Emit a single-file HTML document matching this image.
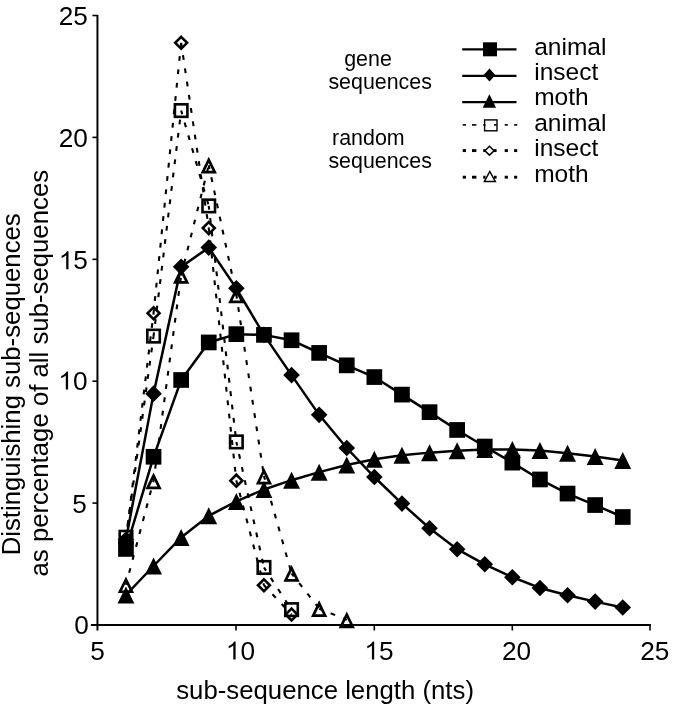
<!DOCTYPE html><html><head><meta charset="utf-8"><style>html,body{margin:0;padding:0;background:#fff;width:685px;height:706px;overflow:hidden}svg{display:block;will-change:transform}text{font-family:"Liberation Sans",sans-serif;fill:#000}</style></head><body>
<svg width="685" height="706" viewBox="0 0 685 706">
<g stroke="#000" stroke-width="2" fill="none">
<path d="M97.45,14.90V630.50"/>
<path d="M90.95,625.00H650.95"/>
<path d="M92.45,503.10H97.45" stroke-width="1.6"/>
<path d="M92.45,381.20H97.45" stroke-width="1.6"/>
<path d="M92.45,259.30H97.45" stroke-width="1.6"/>
<path d="M92.45,137.40H97.45" stroke-width="1.6"/>
<path d="M92.45,15.50H97.45" stroke-width="1.6"/>
<path d="M236.00,625.00V630.50" stroke-width="1.6"/>
<path d="M374.30,625.00V630.50" stroke-width="1.6"/>
<path d="M512.30,625.00V630.50" stroke-width="1.6"/>
<path d="M650.00,625.00V630.50" stroke-width="1.6"/>
</g>
<text x="58.74" y="25.30" font-size="26.2">2</text><text x="73.31" y="25.30" font-size="26.2">5</text>
<text x="58.74" y="146.70" font-size="26.2">2</text><text x="73.31" y="146.70" font-size="26.2">0</text>
<path transform="translate(58.74,269.30) scale(0.01279,-0.01279)" d="M763,0L583,0L583,1098Q518,1039 412,979Q306,920 223,890L223,1057Q374,1125 487,1221Q600,1318 647,1409L763,1409Z"/><text x="73.31" y="269.30" font-size="26.2">5</text>
<path transform="translate(58.34,389.50) scale(0.01279,-0.01279)" d="M763,0L583,0L583,1098Q518,1039 412,979Q306,920 223,890L223,1057Q374,1125 487,1221Q600,1318 647,1409L763,1409Z"/><text x="72.91" y="389.50" font-size="26.2">0</text>
<text x="72.21" y="513.20" font-size="26.2">5</text>
<text x="74.21" y="633.50" font-size="26.2">0</text>
<text x="90.25" y="659.60" font-size="26.2">5</text>
<path transform="translate(225.84,659.60) scale(0.01279,-0.01279)" d="M763,0L583,0L583,1098Q518,1039 412,979Q306,920 223,890L223,1057Q374,1125 487,1221Q600,1318 647,1409L763,1409Z"/><text x="240.41" y="659.60" font-size="26.2">0</text>
<path transform="translate(364.44,659.60) scale(0.01279,-0.01279)" d="M763,0L583,0L583,1098Q518,1039 412,979Q306,920 223,890L223,1057Q374,1125 487,1221Q600,1318 647,1409L763,1409Z"/><text x="379.01" y="659.60" font-size="26.2">5</text>
<text x="501.89" y="659.60" font-size="26.2">2</text><text x="516.46" y="659.60" font-size="26.2">0</text>
<text x="640.19" y="659.60" font-size="26.2">2</text><text x="654.76" y="659.60" font-size="26.2">5</text>
<text transform="translate(20.2,555.36) rotate(-90)" font-size="25.75">Distinguishing sub-sequences</text>
<text transform="translate(48.4,576.46) rotate(-90)" font-size="25.75">as percentage of all sub-sequences</text>
<text x="176.23" y="699.2" font-size="25.75">sub-sequence length (nts)</text>
<path d="M125.95,548.93 L153.55,456.78 L181.15,379.98 L208.75,342.44 L236.35,334.15 L263.95,334.88 L291.55,340.24 L319.15,352.92 L346.75,365.35 L374.35,377.06 L401.95,394.61 L429.55,412.16 L457.15,429.96 L484.75,446.54 L512.35,462.63 L539.95,479.45 L567.55,493.59 L595.15,505.05 L622.75,517.00" fill="none" stroke="#000" stroke-width="2.5"/>
<rect x="118.10" y="541.08" width="15.70" height="15.70"/><rect x="145.70" y="448.93" width="15.70" height="15.70"/><rect x="173.30" y="372.13" width="15.70" height="15.70"/><rect x="200.90" y="334.59" width="15.70" height="15.70"/><rect x="228.50" y="326.30" width="15.70" height="15.70"/><rect x="256.10" y="327.03" width="15.70" height="15.70"/><rect x="283.70" y="332.39" width="15.70" height="15.70"/><rect x="311.30" y="345.07" width="15.70" height="15.70"/><rect x="338.90" y="357.50" width="15.70" height="15.70"/><rect x="366.50" y="369.21" width="15.70" height="15.70"/><rect x="394.10" y="386.76" width="15.70" height="15.70"/><rect x="421.70" y="404.31" width="15.70" height="15.70"/><rect x="449.30" y="422.11" width="15.70" height="15.70"/><rect x="476.90" y="438.69" width="15.70" height="15.70"/><rect x="504.50" y="454.78" width="15.70" height="15.70"/><rect x="532.10" y="471.60" width="15.70" height="15.70"/><rect x="559.70" y="485.74" width="15.70" height="15.70"/><rect x="587.30" y="497.20" width="15.70" height="15.70"/><rect x="614.90" y="509.15" width="15.70" height="15.70"/>
<path d="M125.95,539.43 L153.55,393.63 L181.15,266.86 L208.75,247.60 L236.35,288.31 L263.95,334.88 L291.55,375.11 L319.15,414.84 L346.75,448.00 L374.35,477.01 L401.95,503.59 L429.55,528.21 L457.15,549.18 L484.75,564.29 L512.35,577.22 L539.95,587.94 L567.55,595.26 L595.15,601.60 L622.75,607.45" fill="none" stroke="#000" stroke-width="2.5"/>
<path d="M125.95,531.13L134.25,539.43L125.95,547.73L117.65,539.43Z"/><path d="M153.55,385.33L161.85,393.63L153.55,401.93L145.25,393.63Z"/><path d="M181.15,258.56L189.45,266.86L181.15,275.16L172.85,266.86Z"/><path d="M208.75,239.30L217.05,247.60L208.75,255.90L200.45,247.60Z"/><path d="M236.35,280.01L244.65,288.31L236.35,296.61L228.05,288.31Z"/><path d="M263.95,326.58L272.25,334.88L263.95,343.18L255.65,334.88Z"/><path d="M291.55,366.81L299.85,375.11L291.55,383.41L283.25,375.11Z"/><path d="M319.15,406.54L327.45,414.84L319.15,423.14L310.85,414.84Z"/><path d="M346.75,439.70L355.05,448.00L346.75,456.30L338.45,448.00Z"/><path d="M374.35,468.71L382.65,477.01L374.35,485.31L366.05,477.01Z"/><path d="M401.95,495.29L410.25,503.59L401.95,511.89L393.65,503.59Z"/><path d="M429.55,519.91L437.85,528.21L429.55,536.51L421.25,528.21Z"/><path d="M457.15,540.88L465.45,549.18L457.15,557.48L448.85,549.18Z"/><path d="M484.75,555.99L493.05,564.29L484.75,572.59L476.45,564.29Z"/><path d="M512.35,568.92L520.65,577.22L512.35,585.52L504.05,577.22Z"/><path d="M539.95,579.64L548.25,587.94L539.95,596.24L531.65,587.94Z"/><path d="M567.55,586.96L575.85,595.26L567.55,603.56L559.25,595.26Z"/><path d="M595.15,593.30L603.45,601.60L595.15,609.90L586.85,601.60Z"/><path d="M622.75,599.15L631.05,607.45L622.75,615.75L614.45,607.45Z"/>
<path d="M125.95,595.01 L153.55,566.00 L181.15,537.48 L208.75,515.78 L236.35,501.39 L263.95,489.45 L291.55,480.18 L319.15,472.14 L346.75,465.07 L374.35,459.22 L401.95,455.32 L429.55,452.63 L457.15,450.68 L484.75,449.46 L512.35,449.46 L539.95,450.44 L567.55,453.36 L595.15,456.53 L622.75,460.44" fill="none" stroke="#000" stroke-width="2.5"/>
<path d="M125.95,586.51L134.40,603.51L117.50,603.51Z"/><path d="M153.55,557.50L162.00,574.50L145.10,574.50Z"/><path d="M181.15,528.98L189.60,545.98L172.70,545.98Z"/><path d="M208.75,507.28L217.20,524.28L200.30,524.28Z"/><path d="M236.35,492.89L244.80,509.89L227.90,509.89Z"/><path d="M263.95,480.95L272.40,497.95L255.50,497.95Z"/><path d="M291.55,471.68L300.00,488.68L283.10,488.68Z"/><path d="M319.15,463.64L327.60,480.64L310.70,480.64Z"/><path d="M346.75,456.57L355.20,473.57L338.30,473.57Z"/><path d="M374.35,450.72L382.80,467.72L365.90,467.72Z"/><path d="M401.95,446.82L410.40,463.82L393.50,463.82Z"/><path d="M429.55,444.13L438.00,461.13L421.10,461.13Z"/><path d="M457.15,442.18L465.60,459.18L448.70,459.18Z"/><path d="M484.75,440.96L493.20,457.96L476.30,457.96Z"/><path d="M512.35,440.96L520.80,457.96L503.90,457.96Z"/><path d="M539.95,441.94L548.40,458.94L531.50,458.94Z"/><path d="M567.55,444.86L576.00,461.86L559.10,461.86Z"/><path d="M595.15,448.03L603.60,465.03L586.70,465.03Z"/><path d="M622.75,451.94L631.20,468.94L614.30,468.94Z"/>
<path d="M125.95,537.23L153.55,336.10 M153.55,336.10L181.15,110.58 M181.15,110.58L208.75,205.91 M208.75,205.91L236.35,441.91 M236.35,441.91L263.95,567.46 M263.95,567.46L291.55,609.64" fill="none" stroke="#000" stroke-width="2.1" stroke-dasharray="4.8 8.6" stroke-dashoffset="1.0"/>
<rect x="119.70" y="530.98" width="12.50" height="12.50" fill="none" stroke="#000" stroke-width="2.6"/><rect x="147.30" y="329.85" width="12.50" height="12.50" fill="none" stroke="#000" stroke-width="2.6"/><rect x="174.90" y="104.33" width="12.50" height="12.50" fill="none" stroke="#000" stroke-width="2.6"/><rect x="202.50" y="199.66" width="12.50" height="12.50" fill="none" stroke="#000" stroke-width="2.6"/><rect x="230.10" y="435.66" width="12.50" height="12.50" fill="none" stroke="#000" stroke-width="2.6"/><rect x="257.70" y="561.21" width="12.50" height="12.50" fill="none" stroke="#000" stroke-width="2.6"/><rect x="285.30" y="603.39" width="12.50" height="12.50" fill="none" stroke="#000" stroke-width="2.6"/>
<path d="M125.95,539.67L153.55,313.18 M153.55,313.18L181.15,42.81 M181.15,42.81L208.75,228.09 M208.75,228.09L236.35,480.67 M236.35,480.67L263.95,585.26 M263.95,585.26L291.55,614.52" fill="none" stroke="#000" stroke-width="2.1" stroke-dasharray="4.8 8.6" stroke-dashoffset="1.0"/>
<path d="M125.95,533.71L131.91,539.67L125.95,545.63L119.99,539.67Z" fill="none" stroke="#000" stroke-width="2.6" stroke-linejoin="miter"/><path d="M153.55,307.22L159.51,313.18L153.55,319.14L147.59,313.18Z" fill="none" stroke="#000" stroke-width="2.6" stroke-linejoin="miter"/><path d="M181.15,36.84L187.11,42.81L181.15,48.77L175.19,42.81Z" fill="none" stroke="#000" stroke-width="2.6" stroke-linejoin="miter"/><path d="M208.75,222.13L214.71,228.09L208.75,234.06L202.79,228.09Z" fill="none" stroke="#000" stroke-width="2.6" stroke-linejoin="miter"/><path d="M236.35,474.71L242.31,480.67L236.35,486.63L230.39,480.67Z" fill="none" stroke="#000" stroke-width="2.6" stroke-linejoin="miter"/><path d="M263.95,579.30L269.91,585.26L263.95,591.22L257.99,585.26Z" fill="none" stroke="#000" stroke-width="2.6" stroke-linejoin="miter"/><path d="M291.55,608.56L297.51,614.52L291.55,620.48L285.59,614.52Z" fill="none" stroke="#000" stroke-width="2.6" stroke-linejoin="miter"/>
<path d="M125.95,584.77L153.55,480.91 M153.55,480.91L181.15,275.39 M181.15,275.39L208.75,165.19 M208.75,165.19L236.35,294.89 M236.35,294.89L263.95,476.04 M263.95,476.04L291.55,573.31 M291.55,573.31L319.15,608.67 M319.15,608.67L346.75,619.88" fill="none" stroke="#000" stroke-width="2.1" stroke-dasharray="4.8 8.6" stroke-dashoffset="1.0"/>
<path d="M125.95,579.50 L131.94,591.77 L119.96,591.77Z" fill="none" stroke="#000" stroke-width="2.7" stroke-linejoin="miter" stroke-miterlimit="10"/><path d="M153.55,475.64 L159.54,487.91 L147.56,487.91Z" fill="none" stroke="#000" stroke-width="2.7" stroke-linejoin="miter" stroke-miterlimit="10"/><path d="M181.15,270.12 L187.14,282.39 L175.16,282.39Z" fill="none" stroke="#000" stroke-width="2.7" stroke-linejoin="miter" stroke-miterlimit="10"/><path d="M208.75,159.92 L214.74,172.19 L202.76,172.19Z" fill="none" stroke="#000" stroke-width="2.7" stroke-linejoin="miter" stroke-miterlimit="10"/><path d="M236.35,289.62 L242.34,301.89 L230.36,301.89Z" fill="none" stroke="#000" stroke-width="2.7" stroke-linejoin="miter" stroke-miterlimit="10"/><path d="M263.95,470.77 L269.94,483.04 L257.96,483.04Z" fill="none" stroke="#000" stroke-width="2.7" stroke-linejoin="miter" stroke-miterlimit="10"/><path d="M291.55,568.04 L297.54,580.31 L285.56,580.31Z" fill="none" stroke="#000" stroke-width="2.7" stroke-linejoin="miter" stroke-miterlimit="10"/><path d="M319.15,603.39 L325.14,615.67 L313.16,615.67Z" fill="none" stroke="#000" stroke-width="2.7" stroke-linejoin="miter" stroke-miterlimit="10"/><path d="M346.75,614.61 L352.74,626.88 L340.76,626.88Z" fill="none" stroke="#000" stroke-width="2.7" stroke-linejoin="miter" stroke-miterlimit="10"/>
<text x="534.2" y="54.9" font-size="24.5">animal</text>
<text x="534.2" y="80.4" font-size="24.5">insect</text>
<text x="534.2" y="105.2" font-size="24.5">moth</text>
<text x="534.2" y="131.3" font-size="24.5">animal</text>
<text x="534.2" y="156.4" font-size="24.5">insect</text>
<text x="534.2" y="181.6" font-size="24.5">moth</text>
<text x="344.2" y="65.6" font-size="21.4">gene</text>
<text x="328.4" y="89.0" font-size="21.4">sequences</text>
<text x="332.1" y="145.1" font-size="21.4">random</text>
<text x="328.4" y="167.5" font-size="21.4">sequences</text>
<g stroke="#000" fill="none">
<path d="M462.2,49.3H516.5" stroke-width="2.2"/>
<path d="M462.2,75.8H516.5" stroke-width="2.2"/>
<path d="M462.2,102.2H516.5" stroke-width="2.2"/>
<path d="M462.7,124.9H466.0" stroke-width="1.6"/>
<path d="M472.0,124.9H476.4" stroke-width="1.6"/>
<path d="M483.2,124.9H485.6" stroke-width="1.6"/>
<path d="M494.0,124.9H496.6" stroke-width="1.6"/>
<path d="M504.7,124.9H507.9" stroke-width="1.6"/>
<path d="M514.1,124.9H517.2" stroke-width="1.6"/>
<path d="M462.7,150.6H466.0" stroke-width="2.9"/>
<path d="M472.0,150.6H476.4" stroke-width="2.9"/>
<path d="M483.2,150.6H485.6" stroke-width="2.9"/>
<path d="M494.0,150.6H496.6" stroke-width="2.9"/>
<path d="M504.7,150.6H507.9" stroke-width="2.9"/>
<path d="M514.1,150.6H517.2" stroke-width="2.9"/>
<path d="M462.7,177.2H466.0" stroke-width="2.9"/>
<path d="M472.0,177.2H476.4" stroke-width="2.9"/>
<path d="M483.2,177.2H485.6" stroke-width="2.9"/>
<path d="M494.0,177.2H496.6" stroke-width="2.9"/>
<path d="M504.7,177.2H507.9" stroke-width="2.9"/>
<path d="M514.1,177.2H517.2" stroke-width="2.9"/>
</g>
<rect x="483" y="42.3" width="14" height="14"/>
<path d="M489.5,68.5L495.3,75L489.5,81.4L483.6,75Z"/>
<path d="M489.4,94.2L496.1,107.7L482.7,107.7Z"/>
<rect x="484.6" y="119.9" width="12.4" height="10.9" fill="none" stroke="#000" stroke-width="1.4"/>
<path d="M489.5,146.3L494.1,150.7L489.5,155.1L484.9,150.7Z" fill="none" stroke="#000" stroke-width="1.5"/>
<path d="M489.8,171.5L495.3,181.5L484.4,181.5Z" fill="none" stroke="#000" stroke-width="1.5"/>
</svg></body></html>
